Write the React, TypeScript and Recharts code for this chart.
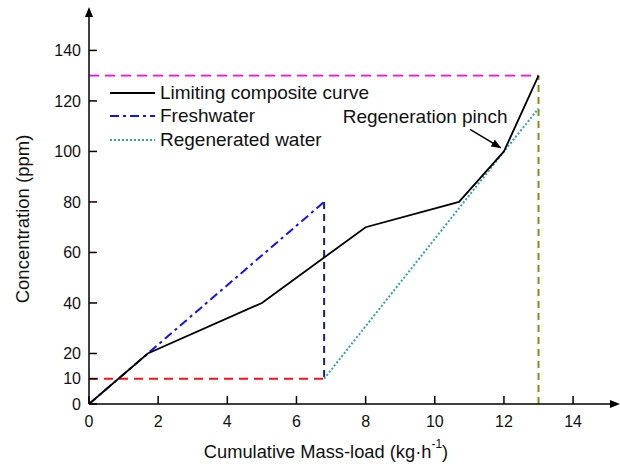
import { LineChart, Line, XAxis, YAxis, ReferenceLine, ReferenceDot } from "recharts";

// curva composta limite
const limitingMass = [0, 1.7, 5, 8, 10.7, 12, 13];
const limitingConc = [0, 20, 40, 70, 80, 100, 130];

// água fresca
const freshMass = [0, 6.8];
const freshConc = [0, 80];
const freshDropMass = [6.8, 6.8];
const freshDropConc = [80, 10];
const freshBaseMass = [0, 6.8];
const freshBaseConc = [10, 10];

// água regenerada
const regenMass = [6.8, 12, 13];
const regenConc = [10, 100, 117];

// limites
const maxConcMass = [0, 13];
const maxConcConc = [130, 130];
const totalLoadMass = [13, 13];
const totalLoadConc = [0, 130];

const xTicks = [0, 2, 4, 6, 8, 10, 12, 14];
const yTicks = [0, 10, 20, 40, 60, 80, 100, 120, 140];

const pinchLabel = "Regeneration pinch";
const pinchArrowFrom = { x: 11.02, y: 108.7 };
const pinchArrowTo = { x: 11.9, y: 101.5 };

const zip = (xs: number[], ys: number[]) => xs.map((x, i) => ({ x, y: ys[i] }));

const FONT = "'Liberation Sans', Arial, sans-serif";
const TICK_LEN = 8;

const legendItems = [
  { label: "Limiting composite curve", color: "#000000", dash: undefined, width: 2 },
  { label: "Freshwater", color: "#1010ff", dash: "9 4 3 4", width: 2 },
  { label: "Regenerated water", color: "#2ea3a8", dash: "2 2", width: 2 },
];

// ticks para dentro, rótulo para fora
const XTick = ({ x, y, payload }: any) => (
  <g>
    <line x1={x} y1={y} x2={x} y2={y - TICK_LEN} stroke="#000" strokeWidth={1.5} />
    <text x={x} y={y + 17} dy="0.355em" textAnchor="middle" fontSize={16} fontFamily={FONT} fill="#111">
      {payload.value}
    </text>
  </g>
);

const YTick = ({ x, y, payload }: any) => (
  <g>
    <line x1={x} y1={y} x2={x + TICK_LEN} y2={y} stroke="#000" strokeWidth={1.5} />
    <text x={x - 8} y={y} dy="0.355em" textAnchor="end" fontSize={16} fontFamily={FONT} fill="#111">
      {payload.value}
    </text>
  </g>
);

// legenda fora do gráfico para não roubar espaço da área de plotagem
function ChartLegend() {
  return (
    <div style={{ position: "absolute", left: 108, top: 81, fontFamily: FONT, fontSize: 19, color: "#111" }}>
      {legendItems.map((it) => (
        <div key={it.label} style={{ display: "flex", alignItems: "center", height: 23.5 }}>
          <svg width={50} height={10}>
            <line x1={2} y1={5} x2={47} y2={5} stroke={it.color} strokeWidth={it.width} strokeDasharray={it.dash} />
          </svg>
          <span style={{ marginLeft: 2, lineHeight: "20px", whiteSpace: "nowrap" }}>{it.label}</span>
        </div>
      ))}
    </div>
  );
}

export default function App() {
  return (
    <div style={{ position: "absolute", left: 0, top: 0, width: 620, height: 464, background: "#fff" }}>
      <svg width={0} height={0} style={{ position: "absolute" }}>
        <defs>
          <marker id="axisArrow" viewBox="0 0 10 8" markerWidth={10} markerHeight={8} refX={7} refY={4} orient="auto-start-reverse" markerUnits="userSpaceOnUse">
            <path d="M0,0 L10,4 L0,8 z" fill="#000" />
          </marker>
          <marker id="noteArrow" viewBox="0 0 10 8" markerWidth={10} markerHeight={8} refX={9} refY={4} orient="auto" markerUnits="userSpaceOnUse">
            <path d="M0,0 L10,4 L0,8 z" fill="#000" />
          </marker>
        </defs>
      </svg>
      <LineChart width={620} height={464} margin={{ top: 10, right: 3, left: 0, bottom: 0 }}>
        <XAxis
          type="number"
          dataKey="x"
          domain={[0, 15.27]}
          ticks={xTicks}
          allowDataOverflow
          height={60}
          tickSize={0}
          tickMargin={0}
          tickLine={false}
          axisLine={{ stroke: "#000", strokeWidth: 1.5, markerEnd: "url(#axisArrow)" }}
          tick={<XTick />}
          label={{
            content: ({ viewBox }: any) => (
              <text
                x={viewBox.x + viewBox.width / 2 - 27}
                y={451}
                textAnchor="middle"
                dominantBaseline="central"
                fontFamily={FONT}
                fontSize={18.3}
                fill="#111"
              >
                Cumulative Mass-load (kg·h
                <tspan dy={-7} fontSize={12}>-1</tspan>
                <tspan dy={7}>)</tspan>
              </text>
            ),
          }}
        />
        <YAxis
          type="number"
          domain={[0, 156]}
          ticks={yTicks}
          allowDataOverflow
          width={89}
          tickSize={0}
          tickMargin={0}
          tickLine={false}
          axisLine={{ stroke: "#000", strokeWidth: 1.5, markerStart: "url(#axisArrow)" }}
          tick={<YTick />}
          label={{
            content: ({ viewBox }: any) => (
              <text
                x={22}
                y={viewBox.y + viewBox.height / 2 + 12}
                textAnchor="middle"
                dominantBaseline="central"
                fontFamily={FONT}
                fontSize={18.5}
                fill="#111"
                transform={`rotate(-90 22 ${viewBox.y + viewBox.height / 2 + 12})`}
              >
                Concentration (ppm)
              </text>
            ),
          }}
        />
        <Line data={zip(maxConcMass, maxConcConc)} dataKey="y" stroke="#ff00ff" strokeWidth={1.8} strokeDasharray="10 6" dot={false} isAnimationActive={false} />
        <Line data={zip(totalLoadMass, totalLoadConc)} dataKey="y" stroke="#8c8c14" strokeWidth={2} strokeDasharray="7 5" dot={false} isAnimationActive={false} />
        <Line data={zip(freshBaseMass, freshBaseConc)} dataKey="y" stroke="#ff1010" strokeWidth={1.8} strokeDasharray="9 6" dot={false} isAnimationActive={false} />
        <Line data={zip(freshDropMass, freshDropConc)} dataKey="y" stroke="#1c1c8c" strokeWidth={2} strokeDasharray="7 5" dot={false} isAnimationActive={false} />
        <Line data={zip(freshMass, freshConc)} dataKey="y" stroke="#1010ff" strokeWidth={2} strokeDasharray="9 4 3 4" dot={false} isAnimationActive={false} />
        <Line data={zip(regenMass, regenConc)} dataKey="y" stroke="#2ea3a8" strokeWidth={2} strokeDasharray="2 2" dot={false} isAnimationActive={false} />
        <Line data={zip(limitingMass, limitingConc)} dataKey="y" stroke="#000" strokeWidth={1.8} dot={false} isAnimationActive={false} />
        <ReferenceLine
          segment={[pinchArrowFrom, pinchArrowTo]}
          stroke="#000"
          strokeWidth={1.5}
          markerEnd="url(#noteArrow)"
        />
        <ReferenceDot
          x={9.72}
          y={113.8}
          r={0}
          fill="none"
          stroke="none"
          label={{ value: pinchLabel, position: "center", fontSize: 19, fontFamily: FONT, fill: "#111" }}
        />
      </LineChart>
      <ChartLegend />
    </div>
  );
}
